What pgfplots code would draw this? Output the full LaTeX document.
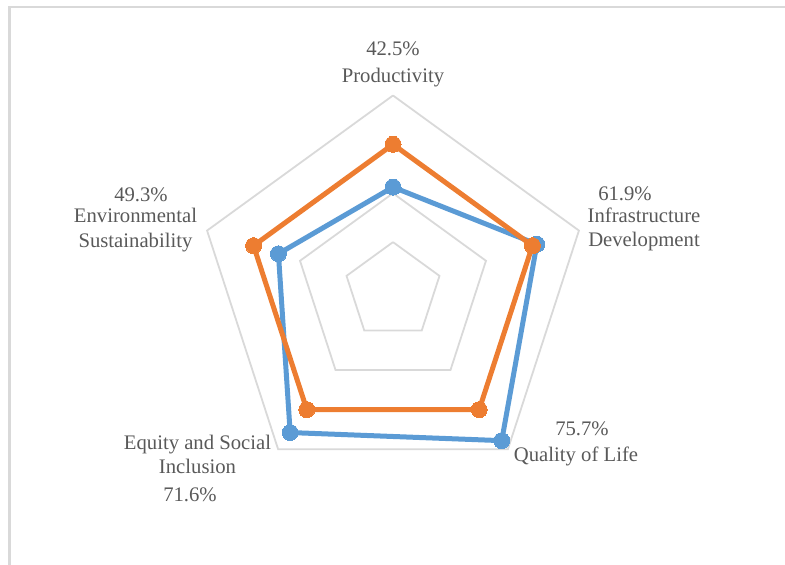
\documentclass[border=0pt]{standalone}
\usepackage{fontspec}
\setmainfont{Liberation Serif}
\usepackage{pgfplots}
\pgfplotsset{compat=1.18}
\usepgfplotslibrary{polar}
\definecolor{cblue}{HTML}{5B9BD5}
\definecolor{corange}{HTML}{ED7D31}
\definecolor{cgrid}{HTML}{D9D9D9}
\definecolor{ctext}{HTML}{595959}
\begin{document}
\begin{tikzpicture}[x=1bp,y=1bp]
\draw[cgrid, line width=2.2bp] (9.5,0) -- (9.5,558) -- (790,558);
\begin{polaraxis}[
  at={(393bp,274bp)}, anchor=center,
  scale only axis, width=391bp, height=391bp,
  ymin=0, ymax=80,
  hide axis,
  clip=false,
]
\addplot[cgrid, line width=1.8bp, no markers] coordinates {(90,20) (18,20) (306,20) (234,20) (162,20) (90,20)};
\addplot[cgrid, line width=1.8bp, no markers] coordinates {(90,40) (18,40) (306,40) (234,40) (162,40) (90,40)};
\addplot[cgrid, line width=1.8bp, no markers] coordinates {(90,60) (18,60) (306,60) (234,60) (162,60) (90,60)};
\addplot[cgrid, line width=1.8bp, no markers] coordinates {(90,80) (18,80) (306,80) (234,80) (162,80) (90,80)};
\addplot[cblue, line width=5bp, line join=round, line cap=round, mark=*, mark size=8bp, mark options={solid, fill=cblue, draw=cblue, line width=0pt}] coordinates {(90,42.5) (18,61.9) (306,75.7) (234,71.6) (162,49.3) (90,42.5)};
\addplot[corange, line width=5bp, line join=round, line cap=round, mark=*, mark size=8bp, mark options={solid, fill=corange, draw=corange, line width=0pt}] coordinates {(90,60) (18,60) (306,60) (234,60) (162,60) (90,60)};
\end{polaraxis}
\begin{scope}[every node/.style={anchor=base, text=ctext, inner sep=0pt, font=\fontsize{20.7bp}{25bp}\selectfont}]
\node at (393,509) {42.5\%};
\node at (393,482) {Productivity};
\node at (625,364) {61.9\%};
\node at (644,342) {Infrastructure};
\node at (644,318) {Development};
\node at (582,129) {75.7\%};
\node at (576,103) {Quality of Life};
\node at (197.5,115) {Equity and Social};
\node at (197.5,91) {Inclusion};
\node at (190,63) {71.6\%};
\node at (141,363) {49.3\%};
\node at (135.5,342) {Environmental};
\node at (135.5,317) {Sustainability};
\end{scope}
\pgfresetboundingbox
\path[use as bounding box] (0,0) rectangle (785,565);
\end{tikzpicture}
\end{document}
